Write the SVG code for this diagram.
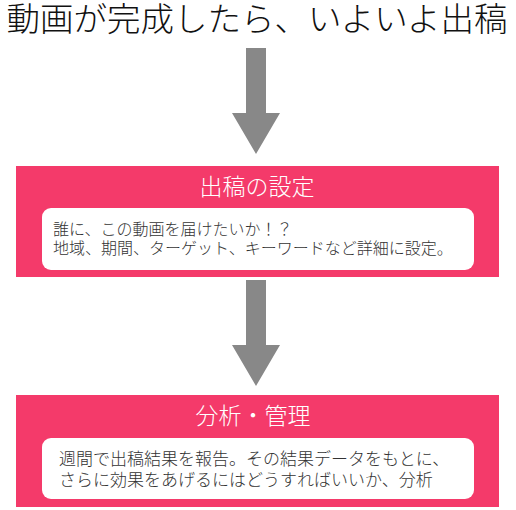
<svg xmlns="http://www.w3.org/2000/svg" width="516" height="510" viewBox="0 0 516 510">
<style>
text{font-family:"Noto Sans CJK JP","Noto Sans CJK SC",sans-serif;font-weight:300;}
.title{font-size:33.5px;fill:#111;}
.box{fill:#F43A6A;}
.inner{fill:#fff;}
.head{font-size:23px;fill:#fff;}
.body{font-size:16px;fill:#333;}
.body2{font-size:17px;fill:#333;}
.arrow{fill:#888;}
</style>
<rect width="516" height="510" fill="#fff"/>
<g id="start">
<text class="title" x="257" y="31" text-anchor="middle">動画が完成したら、いよいよ出稿</text>
</g>
<g id="connectors">
<path class="arrow" d="M246 48H266V113H280L256 154L232 113H246Z"/>
<path class="arrow" d="M246 280H266V345H280L256 386L232 345H246Z"/>
</g>
<g id="settings">
<rect class="box" x="16" y="166" width="483" height="111"/>
<text class="head" x="257" y="195" text-anchor="middle">出稿の設定</text>
<rect class="inner" x="42" y="208" width="432" height="62" rx="9"/>
<text class="body" x="53" y="235">誰に、この動画を届けたいか！？<tspan x="53" dy="19">地域、期間、ターゲット、キーワードなど詳細に設定。</tspan></text>
</g>
<g id="analysis">
<rect class="box" x="16" y="395" width="483" height="112"/>
<text class="head" x="253" y="424" text-anchor="middle">分析・管理</text>
<rect class="inner" x="42" y="438" width="432" height="61" rx="9"/>
<text class="body2" x="59" y="465">週間で出稿結果を報告。その結果データをもとに、<tspan x="59" dy="21">さらに効果をあげるにはどうすればいいか、分析</tspan></text>
</g>
</svg>
